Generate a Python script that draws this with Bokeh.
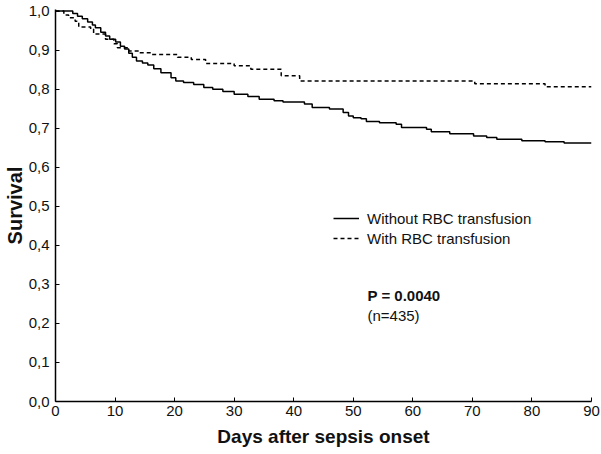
from bokeh.plotting import figure
from bokeh.models import Range1d, FixedTicker, CustomJSTickFormatter, Legend, LegendItem, Label
from bokeh.embed import file_html
from bokeh.resources import INLINE

# Kaplan-Meier step data (day of step, survival after step)
without_days = [0, 2.9, 3.7, 4.5, 5.4, 6.2, 6.7, 7.6, 8.4, 9.1, 10.1, 10.9, 11.6, 12.3, 12.9,
                13.6, 14.6, 15.5, 16.5, 17.7, 19.4, 20.2, 21.5, 23.2, 24.9, 26.4, 28.1, 30.0,
                32.3, 34.2, 36.7, 38.2, 41.8, 43.1, 46.0, 48.3, 49.2, 50.0, 51.3, 52.2, 54.4,
                57.2, 58.1, 62.3, 63.1, 66.2, 70.2, 72.4, 74.1, 78.3, 82.2, 85.4, 90.0]
without_surv = [1.0, 0.994, 0.987, 0.980, 0.972, 0.964, 0.957, 0.946, 0.936, 0.928, 0.921, 0.910,
                0.903, 0.892, 0.882, 0.872, 0.867, 0.862, 0.852, 0.842, 0.829, 0.821, 0.817,
                0.812, 0.804, 0.800, 0.794, 0.787, 0.781, 0.774, 0.770, 0.767, 0.762, 0.753,
                0.749, 0.740, 0.731, 0.727, 0.724, 0.717, 0.714, 0.710, 0.702, 0.697, 0.691,
                0.686, 0.680, 0.676, 0.672, 0.668, 0.665, 0.662, 0.662]

with_days = [0, 1.4, 2.2, 3.3, 3.9, 5.9, 6.4, 8.4, 9.8, 10.4, 12.3, 14.0, 16.0, 20.5, 22.8,
             25.2, 30.0, 32.8, 37.9, 41.0, 70.4, 82.2, 90.0]
with_surv = [1.0, 0.990, 0.983, 0.974, 0.959, 0.954, 0.941, 0.928, 0.916, 0.906, 0.898, 0.893,
             0.889, 0.882, 0.876, 0.866, 0.860, 0.851, 0.834, 0.821, 0.814, 0.806, 0.806]

x_ticks = [0, 10, 20, 30, 40, 50, 60, 70, 80, 90]
y_ticks = [0.0, 0.1, 0.2, 0.3, 0.4, 0.5, 0.6, 0.7, 0.8, 0.9, 1.0]
series_labels = ["Without RBC transfusion", "With RBC transfusion"]
p_text = "P = 0.0040"
n_text = "(n=435)"

FONT = "Liberation Sans"

p = figure(width=601, height=454, output_backend="svg", toolbar_location=None,
           x_range=Range1d(0, 90), y_range=Range1d(0, 1.004),
           min_border_left=55, min_border_right=10, min_border_top=9, min_border_bottom=53)
p.background_fill_color = "white"
p.border_fill_color = "white"
p.outline_line_color = None
p.grid.visible = False

r1 = p.step(without_days, without_surv, mode="after", line_color="black", line_width=1.5)
r2 = p.step(with_days, with_surv, mode="after", line_color="black", line_width=1.5,
            line_dash="4 3")

for ax in (p.xaxis[0], p.yaxis[0]):
    ax.axis_line_color = "black"
    ax.axis_line_width = 1.5
    ax.major_tick_line_color = "black"
    ax.major_tick_in = 4
    ax.major_tick_out = 0
    ax.minor_tick_line_color = None
    ax.major_label_text_font = FONT
    ax.major_label_text_font_size = "15px"
    ax.major_label_text_color = "#111111"
    ax.axis_label_text_font = FONT
    ax.axis_label_text_font_style = "bold"
    ax.axis_label_text_color = "#111111"

p.xaxis[0].axis_label_text_font_size = "19px"
p.yaxis[0].axis_label_text_font_size = "20px"
p.xaxis[0].ticker = FixedTicker(ticks=x_ticks)
p.yaxis[0].ticker = FixedTicker(ticks=y_ticks)
p.yaxis[0].formatter = CustomJSTickFormatter(code="return tick.toFixed(1).replace('.', ',');")
p.xaxis[0].axis_label = "Days after sepsis onset"
p.yaxis[0].axis_label = "Survival"
p.xaxis[0].major_label_standoff = 4
p.xaxis[0].axis_label_standoff = 7
p.yaxis[0].major_label_standoff = 6
p.yaxis[0].axis_label_standoff = 0

legend = Legend(items=[LegendItem(label=series_labels[0], renderers=[r1]),
                       LegendItem(label=series_labels[1], renderers=[r2])],
                location=(278, 153), padding=0, margin=0, spacing=0,
                glyph_width=26, glyph_height=20, label_height=20, label_standoff=8,
                label_text_font=FONT, label_text_font_size="15px", label_text_color="#111111",
                border_line_color=None, background_fill_alpha=0)
p.add_layout(legend, "center")

p.add_layout(Label(x=312, y=106, x_units="screen", y_units="screen", text=p_text,
                   text_font=FONT, text_font_size="15px", text_font_style="bold",
                   text_baseline="middle", text_color="#111111"))
p.add_layout(Label(x=312, y=86, x_units="screen", y_units="screen", text=n_text,
                   text_font=FONT, text_font_size="15px",
                   text_baseline="middle", text_color="#111111"))

open("out.html", "w").write(file_html(p, INLINE))
